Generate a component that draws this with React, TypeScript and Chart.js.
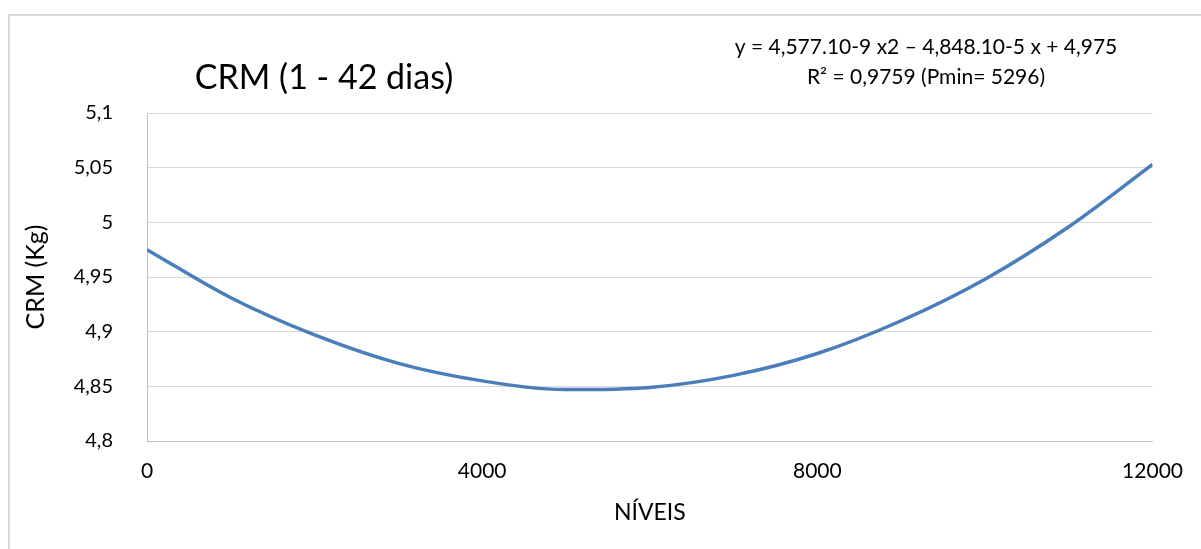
import React, { useEffect, useRef } from "react";
import { Chart, registerables } from "chart.js";

Chart.register(...registerables);

const levels = [0, 1000, 2000, 3000, 4000, 5000, 6000, 7000, 8000, 9000, 10000, 11000, 12000];
const crmValues = [4.975, 4.931, 4.897, 4.871, 4.855, 4.847, 4.849, 4.86, 4.88, 4.91, 4.948, 4.996, 5.053];
const xTicks = [0, 4000, 8000, 12000];
const chartTitle = "CRM (1 - 42 dias)";
const equationLines = ["y = 4,577.10-9 x2 – 4,848.10-5 x + 4,975", "R² = 0,9759 (Pmin= 5296)"];
const xTitle = "NÍVEIS";
const yTitle = "CRM (Kg)";

const FONT = "Lato, 'Open Sans', sans-serif";

const decorPlugin = {
  id: "decor",
  beforeDraw(chart: any) {
    const ctx = chart.ctx;
    ctx.save();
    ctx.fillStyle = "#ffffff";
    ctx.fillRect(0, 0, chart.width, chart.height);
    ctx.fillStyle = "#d9d9d9";
    ctx.fillRect(8, 14, chart.width - 8, 2);
    ctx.fillRect(8, 14, 2, chart.height - 14);
    ctx.restore();
  },
  afterDraw(chart: any) {
    const ctx = chart.ctx;
    ctx.save();
    ctx.fillStyle = "#000000";
    ctx.textAlign = "center";
    ctx.textBaseline = "middle";
    ctx.font = `34px ${FONT}`;
    ctx.fillText(chartTitle, 324, 78);
    ctx.font = `21px ${FONT}`;
    ctx.fillText(equationLines[0], 926, 47);
    ctx.fillText(equationLines[1], 926, 77);
    ctx.restore();
  },
};

export default function App() {
  const ref = useRef<HTMLCanvasElement | null>(null);

  useEffect(() => {
    if (!ref.current) return;
    const chart = new Chart(ref.current, {
      type: "line",
      data: {
        datasets: [
          {
            data: levels.map((x, i) => ({ x, y: crmValues[i] })),
            borderColor: "#4a7ebb",
            borderWidth: 3.5,
            pointRadius: 0,
            tension: 0.4,
            cubicInterpolationMode: "monotone",
            fill: false,
          },
        ],
      },
      options: {
        animation: false,
        responsive: false,
        layout: { padding: { left: 0, top: 113, right: 47, bottom: 0 } },
        plugins: { legend: { display: false }, tooltip: { enabled: false }, title: { display: false } },
        scales: {
          x: {
            type: "linear",
            min: 0,
            max: 12000,
            afterFit: (s: any) => {
              s.height = 108;
            },
            afterBuildTicks: (s: any) => {
              s.ticks = xTicks.map((v) => ({ value: v }));
            },
            grid: { display: false, drawTicks: false },
            border: { display: true, color: "#bfbfbf", width: 1 },
            ticks: {
              padding: 18,
              maxRotation: 0,
              color: "#000000",
              font: { family: FONT, size: 21 },
              callback: (v: any) => String(v),
            },
            title: {
              display: true,
              text: xTitle,
              color: "#000000",
              font: { family: FONT, size: 23 },
              padding: { top: 0, bottom: 23 },
            },
          },
          y: {
            min: 4.8,
            max: 5.1,
            afterFit: (s: any) => {
              s.width = 147;
            },
            ticks: {
              stepSize: 0.05,
              padding: 34,
              color: "#000000",
              font: { family: FONT, size: 20 },
              callback: (v: any) => String(Number(Number(v).toFixed(2))).replace(".", ","),
            },
            grid: { color: "#d9d9d9", lineWidth: 1, drawTicks: false },
            border: { display: true, color: "#bfbfbf", width: 1 },
            title: {
              display: true,
              text: yTitle,
              color: "#000000",
              font: { family: FONT, size: 25 },
              padding: { top: 21, bottom: 0 },
            },
          },
        },
      },
      plugins: [decorPlugin],
    } as any);
    return () => chart.destroy();
  }, []);

  return (
    <div style={{ position: "absolute", left: 0, top: 0, width: 1201, height: 549 }}>
      <canvas ref={ref} width={1201} height={549} style={{ display: "block", width: 1201, height: 549 }} />
    </div>
  );
}
